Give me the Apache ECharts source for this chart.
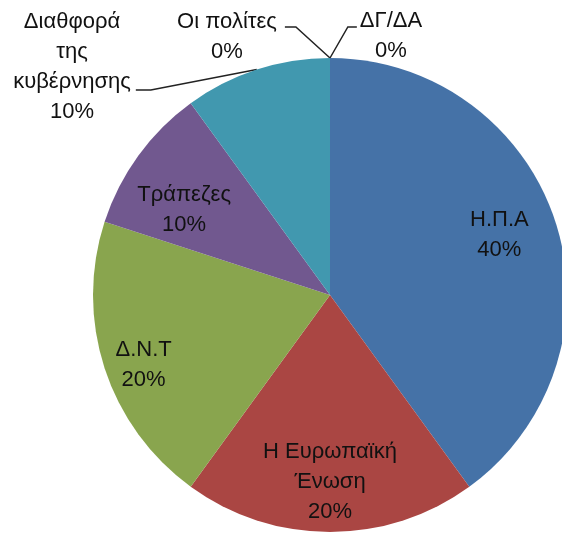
<!DOCTYPE html>
<html>
<head>
<meta charset="utf-8">
<script src="https://cdn.jsdelivr.net/npm/echarts@6/dist/echarts.min.js"></script>
<style>
  html, body { margin: 0; padding: 0; background: #fff; }
  #chart { width: 562px; height: 533px; }
</style>
</head>
<body>
<div id="chart"></div>
<script>
// slices, clockwise from 12 o'clock
var categories = ["Η.Π.Α", "Η Ευρωπαϊκή\nΈνωση", "Δ.Ν.Τ", "Τράπεζες", "Διαθφορά\nτης\nκυβέρνησης", "Οι πολίτες", "ΔΓ/ΔΑ"];
var answers = [4, 2, 2, 1, 1, 0, 0];
var sliceColors = ["#4572A7", "#AA4643", "#89A54E", "#71588F", "#4198AF", "#DB843D", "#93A9CF"];

var FONT = "Liberation Sans";
var FONT_SIZE = 22;
var LINE_H = 30;
var CENTER = [330, 295];
var R = 237;

// labels drawn inside their slice (with a small nudge, excel "best fit" style)
var insideNudge = {
    0: [-8, -2],
    1: [0, 0],
    2: [-9, 12],
    3: [5, 25]
};
// labels drawn outside with a leader line
var callouts = {
    4: { x: 72, y: 67, side: "left", row: 2, drop: 8, gap: 5, bend: 15 },
    5: { x: 227, y: 37, side: "left", row: 0, drop: 5, gap: 8, bend: 11 },
    6: { x: 391, y: 36, side: "right", row: 0, drop: 6, gap: 3, bend: 9 }
};

var chart = echarts.init(document.getElementById("chart"));

var baseData = categories.map(function (name, i) {
    return {
        name: name,
        value: answers[i],
        itemStyle: { color: sliceColors[i] },
        label: { show: !!callouts[i] },
        labelLine: { show: !!callouts[i] }
    };
});

var labelData = categories.map(function (name, i) {
    return {
        name: name,
        value: answers[i],
        label: { show: !!insideNudge[i] }
    };
});

var labelText = {
    formatter: "{b}\n{d}%",
    fontFamily: FONT,
    fontSize: FONT_SIZE,
    lineHeight: LINE_H,
    color: "#111",
    align: "center"
};

chart.setOption({
    animation: false,
    series: [
        {
            type: "pie",
            center: CENTER,
            radius: R,
            startAngle: 90,
            clockwise: true,
            avoidLabelOverlap: false,
            silent: true,
            percentPrecision: 0,
            itemStyle: { borderWidth: 0 },
            label: Object.assign({ position: "outside" }, labelText),
            labelLine: {
                show: true,
                lineStyle: { color: "#222", width: 1.5 }
            },
            labelLayout: function (p) {
                var c = callouts[p.dataIndex];
                if (!c) return {};
                var w = p.labelRect.width, h = p.labelRect.height;
                var start = p.labelLinePoints[0];
                var lineY = c.y - h / 2 + LINE_H * (c.row + 0.5) + c.drop;
                var endX = c.side === "left" ? c.x + w / 2 + c.gap : c.x - w / 2 - c.gap;
                var bendX = c.side === "left" ? endX + c.bend : endX - c.bend;
                return {
                    x: c.x,
                    y: c.y,
                    align: "center",
                    verticalAlign: "middle",
                    labelLinePoints: [start, [bendX, lineY], [endX, lineY]]
                };
            },
            data: baseData
        },
        {
            // transparent ring, only carries the inside labels further out
            type: "pie",
            center: CENTER,
            radius: [130, R],
            startAngle: 90,
            clockwise: true,
            silent: true,
            percentPrecision: 0,
            itemStyle: { color: "rgba(0,0,0,0)" },
            label: Object.assign({ position: "inside" }, labelText),
            labelLine: { show: false },
            labelLayout: function (p) {
                var n = insideNudge[p.dataIndex];
                return n ? { dx: n[0], dy: n[1] } : {};
            },
            data: labelData
        }
    ]
});
</script>
</body>
</html>
